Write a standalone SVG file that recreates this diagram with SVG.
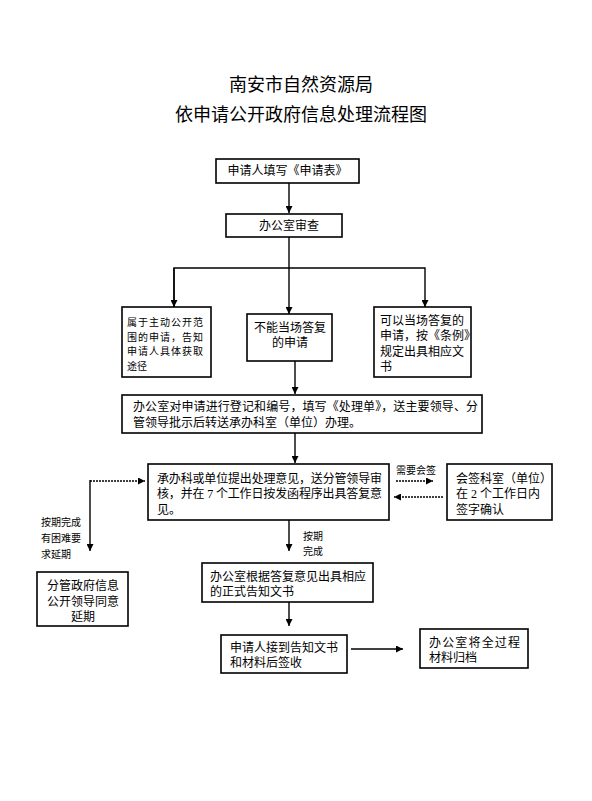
<svg xmlns="http://www.w3.org/2000/svg" width="592" height="801" viewBox="0 0 592 801">
<style>
.box{fill:#fff;stroke:#000;stroke-width:1.6}
.t{font-family:"Liberation Serif","Noto Sans CJK SC","Noto Sans CJK JP",serif;font-size:12px;fill:#000;dominant-baseline:central}
.s{font-family:"Liberation Serif","Noto Sans CJK SC","Noto Sans CJK JP",serif;font-size:10px;fill:#000;dominant-baseline:central}
.title{font-family:"Liberation Sans","Noto Sans CJK SC","Noto Sans CJK JP",sans-serif;font-size:18px;fill:#000;text-anchor:middle;dominant-baseline:central}
.ln{fill:none;stroke:#000;stroke-width:1.4}
.dash{fill:none;stroke:#000;stroke-width:1.4;stroke-dasharray:2 1}
</style>
<defs>
<marker id="ah" viewBox="0 0 10 10" refX="10" refY="5" markerWidth="7" markerHeight="7" markerUnits="userSpaceOnUse" orient="auto">
<path d="M0,0 L10,5 L0,10 z" fill="#000"/>
</marker>
</defs>
<rect width="592" height="801" fill="#fff"/>
<g id="title">
<text class="title" x="301" y="85">南安市自然资源局</text>
<text class="title" x="301" y="115">依申请公开政府信息处理流程图</text>
</g>
<g id="connectors">
<line class="ln" x1="289" y1="183" x2="289" y2="213" marker-end="url(#ah)"/>
<polyline class="ln" points="289,237 289,268"/>
<polyline class="ln" points="174,307 174,268 425,268 425,307" marker-end="url(#ah)"/>
<line class="ln" x1="174" y1="268" x2="174" y2="307" marker-end="url(#ah)"/>
<line class="ln" x1="289" y1="268" x2="289" y2="314" marker-end="url(#ah)"/>
<line class="ln" x1="295" y1="361" x2="295" y2="394" marker-end="url(#ah)"/>
<line class="ln" x1="295" y1="433" x2="295" y2="463" marker-end="url(#ah)"/>
<line class="dash" x1="90" y1="481" x2="145" y2="481" marker-end="url(#ah)"/>
<line class="ln" x1="90" y1="480" x2="90" y2="551" marker-end="url(#ah)"/>
<line class="dash" x1="396" y1="481" x2="433" y2="481" marker-end="url(#ah)"/>
<line class="dash" x1="443" y1="497" x2="394" y2="497" marker-end="url(#ah)"/>
<line class="ln" x1="289" y1="520" x2="289" y2="551" marker-end="url(#ah)"/>
<line class="ln" x1="289" y1="602" x2="289" y2="626" marker-end="url(#ah)"/>
<line class="ln" x1="351" y1="649" x2="403" y2="649" stroke-width="2.2" marker-end="url(#ah)"/>
</g>
<g id="n1">
<rect class="box" x="216" y="159" width="143" height="24"/>
<text class="t" x="287.5" y="171" text-anchor="middle">申请人填写《申请表》</text>
</g>
<g id="n2">
<rect class="box" x="226" y="214" width="116" height="23"/>
<text class="t" x="289" y="226" text-anchor="middle">办公室审查</text>
</g>
<g id="n3">
<rect class="box" x="122" y="307" width="89" height="70"/>
<text class="s" x="127" y="322" font-size="10.5" textLength="76" lengthAdjust="spacing">属于主动公开范</text>
<text class="s" x="127" y="337" font-size="10.5" textLength="76" lengthAdjust="spacing">围的申请，告知</text>
<text class="s" x="127" y="351" font-size="10.5" textLength="76" lengthAdjust="spacing">申请人具体获取</text>
<text class="s" x="127" y="366" font-size="10.5">途径</text>
</g>
<g id="n4">
<rect class="box" x="247" y="314" width="85" height="47"/>
<text class="t" x="290" y="328" text-anchor="middle">不能当场答复</text>
<text class="t" x="290" y="343" text-anchor="middle">的申请</text>
</g>
<g id="n5">
<rect class="box" x="374" y="307" width="97" height="70"/>
<text class="t" x="380" y="321">可以当场答复的</text>
<text class="t" x="380" y="336">申请，按《条例》</text>
<text class="t" x="380" y="352">规定出具相应文</text>
<text class="t" x="380" y="367">书</text>
</g>
<g id="n6">
<rect class="box" x="122" y="395" width="360" height="38"/>
<text class="t" x="133" y="407" textLength="345" lengthAdjust="spacing">办公室对申请进行登记和编号，填写《处理单》，送主要领导、分</text>
<text class="t" x="133" y="423">管领导批示后转送承办科室（单位）办理。</text>
</g>
<g id="n7">
<rect class="box" x="148" y="464" width="241" height="56"/>
<text class="t" x="157" y="479" textLength="225" lengthAdjust="spacing">承办科或单位提出处理意见，送分管领导审</text>
<text class="t" x="157" y="494" textLength="225" lengthAdjust="spacing">核，并在 7 个工作日按发函程序出具答复意</text>
<text class="t" x="157" y="510">见。</text>
</g>
<g id="n8">
<rect class="box" x="447" y="464" width="105" height="56"/>
<text class="t" x="456" y="479">会签科室（单位）</text>
<text class="t" x="456" y="494" textLength="84" lengthAdjust="spacing">在 2 个工作日内</text>
<text class="t" x="456" y="510">签字确认</text>
</g>
<g id="labels">
<text class="s" x="396" y="470" font-size="9.5">需要会签</text>
<text class="s" x="41" y="522">按期完成</text>
<text class="s" x="41" y="538">有困难要</text>
<text class="s" x="41" y="554">求延期</text>
<text class="s" x="303" y="536">按期</text>
<text class="s" x="303" y="551">完成</text>
</g>
<g id="n9">
<rect class="box" x="37" y="572" width="91" height="54"/>
<text class="t" x="83" y="586" text-anchor="middle">分管政府信息</text>
<text class="t" x="83" y="602" text-anchor="middle">公开领导同意</text>
<text class="t" x="83" y="617" text-anchor="middle">延期</text>
</g>
<g id="n10">
<rect class="box" x="202" y="563" width="171" height="39"/>
<text class="t" x="210" y="577">办公室根据答复意见出具相应</text>
<text class="t" x="210" y="592">的正式告知文书</text>
</g>
<g id="n11">
<rect class="box" x="221" y="635" width="126" height="38"/>
<text class="t" x="230" y="648">申请人接到告知文书</text>
<text class="t" x="230" y="663">和材料后签收</text>
</g>
<g id="n12">
<rect class="box" x="420" y="629" width="108" height="39"/>
<text class="t" x="429" y="643" textLength="91" lengthAdjust="spacing">办公室将全过程</text>
<text class="t" x="429" y="658">材料归档</text>
</g>
</svg>
